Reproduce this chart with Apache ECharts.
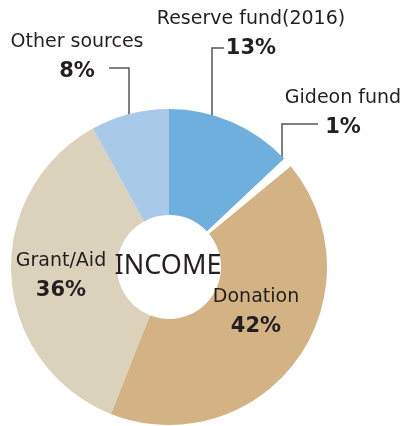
<!DOCTYPE html>
<html>
<head>
<meta charset="utf-8">
<script src="https://cdn.jsdelivr.net/npm/echarts@6/dist/echarts.min.js"></script>
<style>
html,body{margin:0;padding:0;background:#fff;}
#chart{width:406px;height:426px;}
</style>
</head>
<body>
<div id="chart"></div>
<script>
// Data
var categories = ['Reserve fund(2016)', 'Gideon fund', 'Donation', 'Grant/Aid', 'Other sources'];
var percents = [13, 1, 42, 36, 8];
var centerTitle = 'INCOME';

// Styles
var sliceColors = ['#6fafde', '#ffffff', '#d3b384', '#dbd2bb', '#a9c9e8'];
var labelPos = [
  {x: 251, y: 34, line: [[212, 140], [212, 48], [224, 48]]},
  {x: 343, y: 113, line: [[282, 167], [282, 124], [318, 124]]},
  {x: 256, y: 312, line: null},
  {x: 61, y: 276, line: null},
  {x: 77, y: 57, line: [[129, 140], [129, 68], [109, 68]]}
];

var chart = echarts.init(document.getElementById('chart'), null, {renderer: 'canvas'});
var FONT = '"Noto Sans", "DejaVu Sans", sans-serif';
var LFONT = '"DejaVu Sans", "Noto Sans", sans-serif';

var seriesData = categories.map(function (c, i) {
  return {
    name: c,
    value: percents[i],
    itemStyle: {color: sliceColors[i]},
    labelLine: {show: !!labelPos[i].line}
  };
});

chart.setOption({
  animation: false,
  graphic: [{
    type: 'text',
    x: 168,
    y: 266,
    z: 100,
    style: {
      text: centerTitle,
      font: 'normal 27px ' + FONT,
      fill: '#231f20',
      align: 'center',
      verticalAlign: 'middle'
    }
  }],
  series: [{
    type: 'pie',
    center: [169, 267],
    radius: [52, 158],
    startAngle: 90,
    clockwise: true,
    silent: true,
    emphasis: {disabled: true},
    avoidLabelOverlap: false,
    data: seriesData,
    label: {
      show: true,
      position: 'outside',
      overflow: 'none',
      width: 300,
      formatter: function (p) { return '{n|' + p.name + '}\n{p|' + p.value + '%}'; },
      align: 'center',
      rich: {
        n: {fontFamily: LFONT, fontSize: 19, color: '#231f20', lineHeight: 29, align: 'center'},
        p: {fontFamily: LFONT, fontSize: 21, fontWeight: 'bold', color: '#231f20', lineHeight: 29, align: 'center'}
      }
    },
    labelLine: {
      show: true,
      lineStyle: {color: '#555555', width: 1.5}
    },
    labelLayout: function (params) {
      var lp = labelPos[params.dataIndex];
      var out = {x: lp.x, y: lp.y, align: 'center', verticalAlign: 'middle', hideOverlap: false};
      if (lp.line) out.labelLinePoints = lp.line;
      return out;
    }
  }]
});
</script>
</body>
</html>
